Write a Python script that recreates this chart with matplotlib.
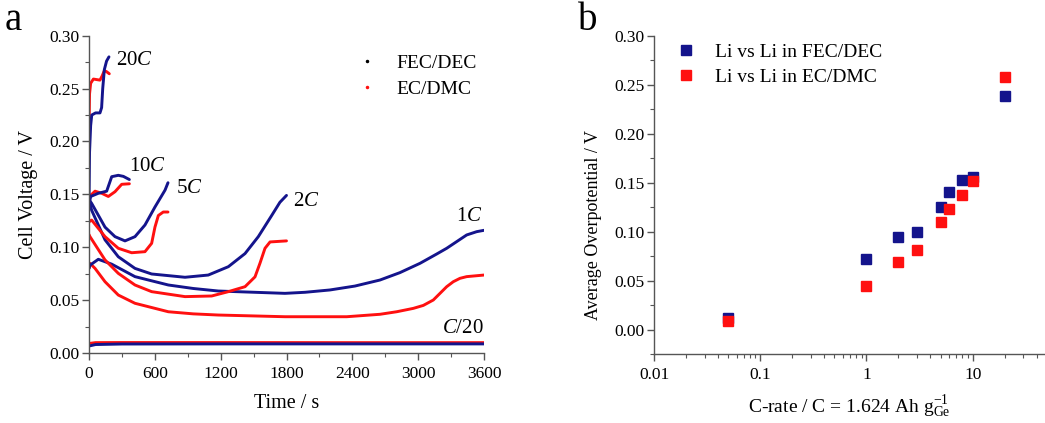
import numpy as np
import matplotlib.pyplot as plt
from matplotlib.lines import Line2D
from matplotlib.ticker import MultipleLocator, FixedLocator, FixedFormatter, LogLocator, NullFormatter

plt.rcParams['font.family'] = 'Liberation Serif'
plt.rcParams['mathtext.fontset'] = 'custom'
plt.rcParams['mathtext.rm'] = 'Liberation Serif'
plt.rcParams['mathtext.it'] = 'Liberation Serif:italic'

BLUE = '#14148c'
RED = '#ff1010'

# ---- panel a: galvanostatic curves (time s, voltage V)
fec_20c_t = [0, 5, 15, 25, 60, 100, 115, 125, 140, 160, 182]
fec_20c_v = [0.140, 0.190, 0.215, 0.225, 0.227, 0.227, 0.232, 0.250, 0.268, 0.276, 0.280]
ec_20c_t = [0, 5, 15, 40, 100, 120, 140, 160, 185]
ec_20c_v = [0.210, 0.245, 0.255, 0.259, 0.258, 0.262, 0.267, 0.266, 0.264]

fec_10c_t = [0, 15, 85, 161, 207, 267, 313, 368]
fec_10c_v = [0.140, 0.148, 0.151, 0.153, 0.1667, 0.168, 0.167, 0.164]
ec_10c_t = [0, 15, 55, 116, 176, 237, 298, 368]
ec_10c_v = [0.145, 0.149, 0.153, 0.151, 0.148, 0.1525, 0.1595, 0.160]

fec_5c_t = [0, 24, 146, 237, 328, 419, 510, 601, 693, 720]
fec_5c_v = [0.145, 0.1415, 0.119, 0.110, 0.106, 0.110, 0.121, 0.138, 0.154, 0.161]
ec_5c_t = [0, 24, 146, 267, 389, 510, 571, 601, 632, 677, 720]
ec_5c_v = [0.124, 0.1257, 0.110, 0.099, 0.0948, 0.0958, 0.1037, 0.119, 0.130, 0.1333, 0.1333]

fec_2c_t = [0, 24, 146, 267, 419, 571, 875, 1087, 1270, 1422, 1543, 1665, 1740, 1800]
fec_2c_v = [0.145, 0.135, 0.107, 0.091, 0.080, 0.0747, 0.0716, 0.0737, 0.0816, 0.094, 0.110,
            0.130, 0.1425, 0.149]
ec_2c_t = [0, 9, 146, 267, 419, 571, 875, 1118, 1270, 1422, 1513, 1558, 1604, 1650, 1800]
ec_2c_v = [0.112, 0.110, 0.088, 0.0753, 0.0643, 0.058, 0.0533, 0.0539, 0.058, 0.0627, 0.072,
           0.0848, 0.099, 0.105, 0.106]

fec_1c_t = [0, 9, 85, 207, 419, 723, 950, 1179, 1786, 1969, 2196, 2424, 2652, 2834, 3017, 3169,
            3260, 3442, 3533, 3600]
fec_1c_v = [0.080, 0.083, 0.0886, 0.084, 0.0722, 0.0643, 0.061, 0.0586, 0.0564, 0.0574, 0.0596,
            0.0633, 0.069, 0.076, 0.0848, 0.0936, 0.099, 0.1116, 0.1147, 0.1160]
ec_1c_t = [0, 9, 55, 146, 267, 419, 723, 950, 1179, 1786, 2349, 2652, 2804, 2956, 3047, 3138,
           3199, 3260, 3320, 3381, 3442, 3600]
ec_1c_v = [0.080, 0.0848, 0.080, 0.0674, 0.0548, 0.047, 0.039, 0.037, 0.0359, 0.0343, 0.0343,
           0.0366, 0.039, 0.0422, 0.045, 0.0501, 0.0564, 0.0627, 0.0674, 0.0706, 0.0722, 0.0737]

fec_c20_t = [0, 60, 300, 1200, 2400, 3600]
fec_c20_v = [0.0066, 0.0080, 0.0085, 0.0086, 0.0086, 0.0086]
ec_c20_t = [0, 60, 300, 1200, 2400, 3600]
ec_c20_v = [0.0090, 0.0098, 0.0099, 0.0099, 0.0098, 0.0098]

rate_labels = ['20$\\mathit{C}$', '10$\\mathit{C}$', '5$\\mathit{C}$', '2$\\mathit{C}$',
               '1$\\mathit{C}$', '$\\mathit{C}$/20']
rate_label_t = [245, 366, 793, 1860, 3590, 3595]
rate_label_v = [0.277, 0.176, 0.156, 0.143, 0.129, 0.0235]
rate_label_ha = ['left', 'left', 'left', 'left', 'right', 'right']

# ---- panel b: average overpotential vs C-rate
c_rate = [0.05, 1, 2, 3, 5, 6, 8, 10, 20]
over_fec = [0.012, 0.072, 0.094, 0.100, 0.125, 0.140, 0.153, 0.156, 0.238]
over_ec = [0.009, 0.044, 0.069, 0.081, 0.110, 0.123, 0.137, 0.152, 0.258]

W, H = 1045, 423
fig = plt.figure(figsize=(W / 100, H / 100), dpi=100)
axa = fig.add_axes([89 / W, 1 - 353 / H, (484 - 89) / W, (353 - 35.7) / H])
axb = fig.add_axes([654 / W, 1 - 354 / H, (1045 - 654) / W, (354 - 35.7) / H])

curves = [(fec_1c_t, fec_1c_v, ec_1c_t, ec_1c_v), (fec_2c_t, fec_2c_v, ec_2c_t, ec_2c_v),
          (fec_5c_t, fec_5c_v, ec_5c_t, ec_5c_v), (fec_10c_t, fec_10c_v, ec_10c_t, ec_10c_v),
          (fec_20c_t, fec_20c_v, ec_20c_t, ec_20c_v), (fec_c20_t, fec_c20_v, ec_c20_t, ec_c20_v)]
for ft, fv, et, ev in curves:
    axa.plot(et, ev, color=RED, lw=2.1, solid_capstyle='round', solid_joinstyle='round')
    axa.plot(ft, fv, color=BLUE, lw=2.1, solid_capstyle='round', solid_joinstyle='round')

for lab, t, v, ha in zip(rate_labels, rate_label_t, rate_label_v, rate_label_ha):
    axa.text(t, v, lab, fontsize=15, ha=ha, va='center')

axa.set_xlim(0, 3600)
axa.set_ylim(0, 0.30)
axa.xaxis.set_major_locator(MultipleLocator(600))
axa.xaxis.set_minor_locator(MultipleLocator(300))
axa.yaxis.set_major_locator(MultipleLocator(0.05))
axa.yaxis.set_minor_locator(MultipleLocator(0.025))
axa.yaxis.set_major_formatter(plt.FormatStrFormatter('%.2f'))
axa.set_xlabel('Time / s', fontsize=14.5, labelpad=9)
axa.set_ylabel('Cell Voltage / V', fontsize=14.5, labelpad=8)

leg_a = [Line2D([], [], ls='', marker='.', ms=3, color='k'),
         Line2D([], [], ls='', marker='.', ms=3, color=RED)]
axa.legend(leg_a, ['FEC/DEC', 'EC/DMC'], loc='upper left', bbox_to_anchor=(357 / W, 1 - 54 / H),
           bbox_transform=fig.transFigure, frameon=False, fontsize=14, handlelength=1.0,
           handletextpad=1.05, borderpad=0, borderaxespad=0, labelspacing=0.45)

axb.plot(c_rate, over_fec, ls='', marker='s', ms=6.5, color=BLUE, label='Li vs Li in FEC/DEC')
axb.plot(c_rate, over_ec, ls='', marker='s', ms=6.5, color=RED, label='Li vs Li in EC/DMC')
axb.set_xscale('log')
axb.set_xlim(0.01, 48)
axb.set_ylim(-0.025, 0.30)
axb.xaxis.set_major_locator(FixedLocator([0.01, 0.1, 1, 10]))
axb.xaxis.set_major_formatter(FixedFormatter(['0.01', '0.1', '1', '10']))
axb.xaxis.set_minor_locator(LogLocator(base=10, subs=np.arange(2, 10)))
axb.xaxis.set_minor_formatter(NullFormatter())
axb.yaxis.set_major_locator(MultipleLocator(0.05))
axb.yaxis.set_minor_locator(MultipleLocator(0.025))
axb.yaxis.set_major_formatter(plt.FormatStrFormatter('%.2f'))
axb.set_xlabel('C-rate / C = 1.624 Ah g$_{\\mathrm{Ge}}^{-1}$', fontsize=14, labelpad=8)
axb.set_ylabel('Average Overpotential / V', fontsize=13)
axb.yaxis.set_label_coords(-0.133, 0.405)
axb.legend(loc='upper left', bbox_to_anchor=(676 / W, 1 - 43 / H), bbox_transform=fig.transFigure,
           frameon=False, fontsize=14, handlelength=1.0, handletextpad=1.0, borderpad=0,
           borderaxespad=0, labelspacing=0.4)

for ax in (axa, axb):
    for side in ('top', 'right'):
        ax.spines[side].set_visible(False)
    for side in ('left', 'bottom'):
        ax.spines[side].set_color('#555555')
        ax.spines[side].set_linewidth(1.0)
    ax.tick_params(which='major', direction='out', length=5, width=1.0, color='#555555',
                   labelsize=12.5, pad=2)
    ax.tick_params(which='minor', direction='out', length=3, width=0.8, color='#555555')
    ax.tick_params(axis='x', which='major', pad=4)

fig.text(5 / W, 1 - 30 / H, 'a', fontsize=28)
fig.text(578 / W, 1 - 30 / H, 'b', fontsize=28)

fig.savefig('out.png', dpi=100)
